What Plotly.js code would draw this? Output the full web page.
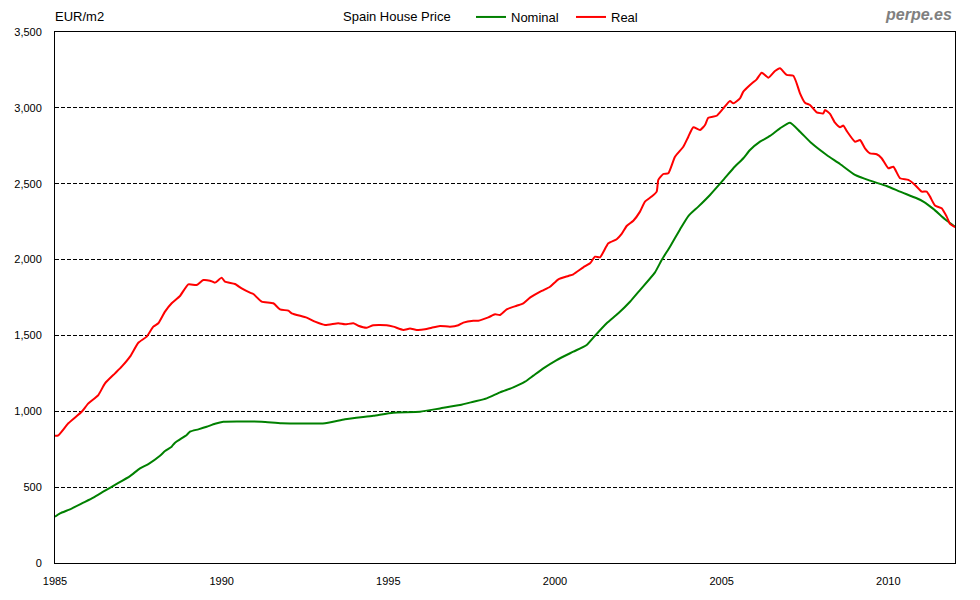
<!DOCTYPE html>
<html>
<head>
<meta charset="utf-8">
<script src="https://cdn.plot.ly/plotly-3.0.1.min.js"></script>
<style>
  html, body { margin: 0; padding: 0; background: #ffffff; }
  #chart { width: 980px; height: 600px; }
</style>
</head>
<body>
<div id="chart"></div>
<script>
// Real (inflation-adjusted) price, EUR/m2
var realYears = [
  1985.0, 1985.1, 1985.4, 1985.8, 1986.0, 1986.3, 1986.5, 1986.8, 1987.0, 1987.25,
  1987.5, 1987.75, 1987.95, 1988.1, 1988.3, 1988.5, 1988.75, 1989.0, 1989.25, 1989.45,
  1989.65, 1989.8, 1990.0, 1990.1, 1990.4, 1990.6, 1990.85, 1990.95, 1991.2, 1991.55,
  1991.75, 1992.0, 1992.1, 1992.55, 1992.8, 1993.1, 1993.5, 1993.7, 1993.95, 1994.1,
  1994.35, 1994.55, 1994.95, 1995.15, 1995.45, 1995.65, 1995.85, 1996.1, 1996.3, 1996.55,
  1996.85, 1997.1, 1997.25, 1997.55, 1997.7, 1998.0, 1998.2, 1998.35, 1998.55, 1998.85,
  1999.05, 1999.25, 1999.6, 1999.85, 2000.1, 2000.4, 2000.55, 2000.85, 2001.05, 2001.2,
  2001.35, 2001.6, 2001.85, 2002.0, 2002.15, 2002.35, 2002.55, 2002.7, 2002.9, 2003.05,
  2003.1, 2003.25, 2003.4, 2003.6, 2003.85, 2004.0, 2004.15, 2004.35, 2004.5, 2004.6,
  2004.85, 2005.05, 2005.25, 2005.35, 2005.55, 2005.65, 2005.85, 2006.05, 2006.2, 2006.4,
  2006.6, 2006.75, 2006.95, 2007.15, 2007.25, 2007.35, 2007.5, 2007.65, 2007.85, 2008.05,
  2008.1, 2008.25, 2008.4, 2008.55, 2008.65, 2008.75, 2009.0, 2009.15, 2009.3, 2009.45,
  2009.65, 2009.8, 2010.0, 2010.15, 2010.35, 2010.6, 2010.8, 2011.0, 2011.15, 2011.25,
  2011.4, 2011.6, 2011.75, 2011.85, 2012.0
];
var realValues = [
  839, 842, 921, 997, 1052, 1107, 1184, 1250, 1294, 1360,
  1452, 1492, 1558, 1580, 1657, 1712, 1760, 1837, 1832, 1865,
  1861, 1848, 1881, 1854, 1839, 1810, 1782, 1773, 1723, 1712,
  1672, 1663, 1646, 1617, 1591, 1569, 1580, 1573, 1580, 1564,
  1551, 1567, 1567, 1558, 1536, 1545, 1536, 1540, 1551, 1562,
  1558, 1567, 1584, 1597, 1597, 1619, 1639, 1635, 1672, 1696,
  1712, 1749, 1793, 1821, 1870, 1892, 1903, 1949, 1975, 2019,
  2015, 2107, 2134, 2169, 2221, 2256, 2316, 2382, 2415, 2448,
  2525, 2564, 2569, 2678, 2744, 2810, 2872, 2854, 2887, 2935,
  2948, 2997, 3045, 3030, 3063, 3107, 3151, 3188, 3232, 3199,
  3243, 3261, 3217, 3212, 3162, 3096, 3034, 3019, 2971, 2964,
  2986, 2960, 2902, 2872, 2883, 2848, 2777, 2788, 2733, 2700,
  2694, 2668, 2602, 2612, 2536, 2525, 2492, 2448, 2448, 2415,
  2356, 2338, 2283, 2235, 2213
];

// Nominal price, EUR/m2
var nominalYears = [
  1985.0, 1985.15, 1985.45, 1985.85, 1986.15, 1986.5, 1986.85, 1987.25, 1987.55, 1987.8,
  1988.15, 1988.3, 1988.5, 1988.6, 1988.95, 1989.05, 1989.3, 1989.55, 1989.8, 1990.05,
  1991.2, 1991.8, 1993.1, 1993.7, 1994.55, 1995.15, 1995.95, 1996.55, 1997.15, 1997.55,
  1997.95, 1998.35, 1998.75, 1999.1, 1999.35, 1999.65, 2000.05, 2000.55, 2000.95, 2001.2,
  2001.55, 2001.9, 2002.25, 2002.55, 2003.0, 2003.2, 2003.45, 2003.75, 2004.0, 2004.3,
  2004.65, 2005.05, 2005.35, 2005.65, 2005.85, 2006.15, 2006.45, 2006.75, 2007.05, 2007.35,
  2007.7, 2008.15, 2008.55, 2009.0, 2009.45, 2009.95, 2010.35, 2010.85, 2011.05, 2011.35,
  2011.7, 2012.0
];
var nominalValues = [
  305, 327, 354, 398, 431, 477, 521, 573, 624, 652,
  707, 738, 767, 793, 844, 866, 881, 898, 918, 931,
  931, 921, 921, 947, 971, 991, 997, 1019, 1041, 1063,
  1085, 1125, 1158, 1195, 1235, 1283, 1338, 1393, 1437, 1498,
  1580, 1646, 1722, 1799, 1916, 1997, 2085, 2199, 2287, 2349,
  2426, 2525, 2602, 2668, 2722, 2777, 2815, 2865, 2902, 2843,
  2766, 2689, 2630, 2558, 2520, 2485, 2448, 2404, 2382, 2334,
  2266, 2217
];

var xTickYears = [1985, 1990, 1995, 2000, 2005, 2010];
var yTickValues = [0, 500, 1000, 1500, 2000, 2500, 3000, 3500];

var FONT = '"Liberation Sans", Arial, sans-serif';

var traces = [
  {
    x: nominalYears, y: nominalValues, name: 'Nominal', type: 'scatter', mode: 'lines',
    line: { color: '#008000', width: 2, shape: 'spline', smoothing: 0.5 }
  },
  {
    x: realYears, y: realValues, name: 'Real', type: 'scatter', mode: 'lines',
    line: { color: '#ff0000', width: 2, shape: 'spline', smoothing: 0.5 }
  }
];

var layout = {
  width: 980, height: 600,
  margin: { l: 55, r: 25, t: 32, b: 37, pad: 0 },
  paper_bgcolor: '#ffffff', plot_bgcolor: '#ffffff',
  font: { family: FONT, size: 11, color: '#000000' },
  showlegend: true,
  hovermode: false,
  legend: {
    orientation: 'h',
    xref: 'container', yref: 'container',
    x: 471 / 980, y: 1 - 17 / 600,
    xanchor: 'left', yanchor: 'middle',
    font: { family: FONT, size: 13, color: '#000000' },
    bgcolor: 'rgba(0,0,0,0)', borderwidth: 0,
    entrywidth: 55, itemwidth: 30, tracegroupgap: 0
  },
  xaxis: {
    range: [1985, 2012],
    tickvals: xTickYears, ticktext: xTickYears.map(String),
    showgrid: false, zeroline: false,
    showline: true, mirror: true, linecolor: '#000000', linewidth: 1,
    ticks: '', ticklabelstandoff: 8,
    tickfont: { family: FONT, size: 11, color: '#000000' },
    fixedrange: true
  },
  yaxis: {
    range: [0, 3500],
    tickvals: yTickValues,
    tickformat: ',d',
    showgrid: true, gridcolor: '#000000', gridwidth: 1, griddash: '4px,2px',
    zeroline: false,
    showline: true, mirror: true, linecolor: '#000000', linewidth: 1,
    ticks: '', ticklabelstandoff: 10,
    tickfont: { family: FONT, size: 11, color: '#000000' },
    fixedrange: true
  },
  annotations: [
    {
      text: 'EUR/m2', xref: 'paper', yref: 'paper',
      x: -2 / 900, y: 1 + 15 / 531, xanchor: 'left', yanchor: 'middle',
      showarrow: false, font: { family: FONT, size: 13, color: '#000000' }
    },
    {
      text: 'Spain House Price', xref: 'paper', yref: 'paper',
      x: (341 - 55) / 900, y: 1 + 15 / 531, xanchor: 'left', yanchor: 'middle',
      showarrow: false, font: { family: FONT, size: 13, color: '#000000' }
    },
    {
      text: '<b><i>perpe.es</i></b>', xref: 'paper', yref: 'paper',
      x: (954 - 55) / 900, y: 1 + 18 / 531, xanchor: 'right', yanchor: 'middle',
      showarrow: false, font: { family: FONT, size: 16, color: '#808080' }
    }
  ]
};

Plotly.newPlot('chart', traces, layout, { displayModeBar: false, staticPlot: true });
</script>
</body>
</html>
